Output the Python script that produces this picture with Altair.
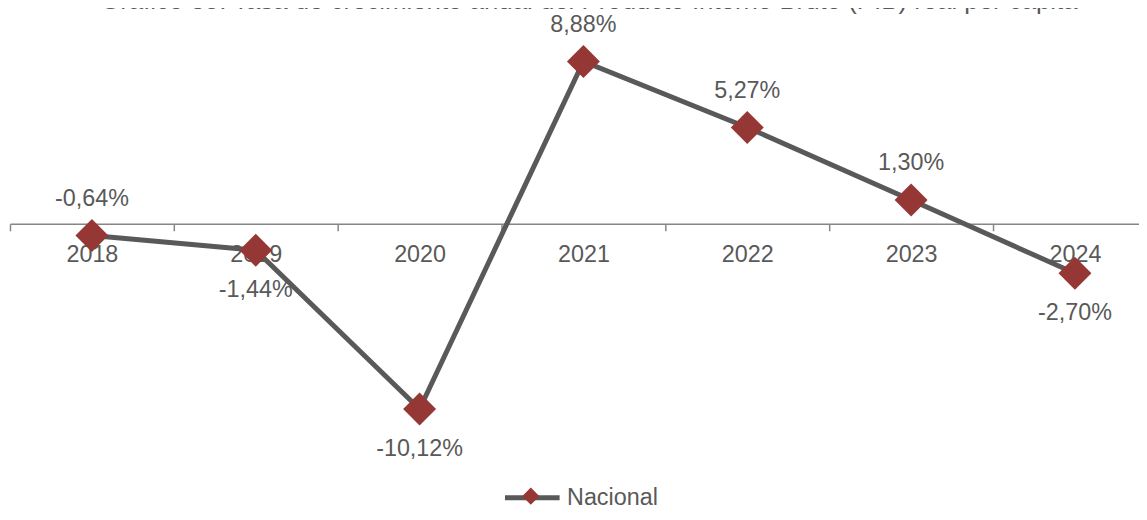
import altair as alt
import pandas as pd

# ---- data ----
anios = ["2018", "2019", "2020", "2021", "2022", "2023", "2024"]
valores = [-0.64, -1.44, -10.12, 8.88, 5.27, 1.30, -2.70]
posicion = ["arriba", "abajo", "abajo", "arriba", "arriba", "arriba", "abajo"]
serie = ["Nacional"] * len(anios)
titulo = ["Gráfico 38. Tasa de crecimiento anual del Producto Interno Bruto (PIB) real per cápita"]

df = pd.DataFrame({"anio": anios, "valor": valores, "pos": posicion, "serie": serie})
df_title = pd.DataFrame({"t": titulo})

# ---- style ----
W, H = 1139, 504
GREY = "#595959"
AXIS_GREY = "#868686"
RED = "#953735"
FONT = "Liberation Sans"
FS = 23.5
ZERO_PX = 215.6
PX_PER_UNIT = 18.42
LEG_CY = 489

y_top = ZERO_PX / PX_PER_UNIT
y_bot = -(H - ZERO_PX) / PX_PER_UNIT

x_enc = alt.X(
    "anio:O",
    scale=alt.Scale(type="band", range=[2, 1157], paddingInner=0, paddingOuter=0),
    bandPosition=0.5,
    axis=alt.Axis(
        title=None,
        offset=ZERO_PX - H,
        tickBand="extent",
        ticks=True,
        tickSize=7,
        tickColor=AXIS_GREY,
        tickWidth=1.5,
        domainColor=AXIS_GREY,
        domainWidth=1.5,
        labelFont=FONT,
        labelFontSize=FS,
        labelColor=GREY,
        labelPadding=12,
        labelAngle=0,
        grid=False,
    ),
)
y_enc = alt.Y("valor:Q", scale=alt.Scale(domain=[y_bot, y_top], nice=False, zero=False), axis=None)

base = alt.Chart(df).transform_calculate(
    etiqueta="(datum.valor < 0 ? '-' : '') + replace(format(abs(datum.valor), '.2f'), '.', ',') + '%'"
)

line = base.mark_line(strokeWidth=5).encode(
    x=x_enc,
    y=y_enc,
    color=alt.Color(
        "serie:N",
        scale=alt.Scale(range=[GREY]),
        legend=alt.Legend(
            title=None,
            orient="none",
            legendX=498,
            legendY=LEG_CY - 27.5,
            symbolType="stroke",
            symbolSize=3025,
            symbolStrokeWidth=5,
            labelFont=FONT,
            labelFontSize=FS,
            labelColor=GREY,
            labelOffset=5,
            padding=0,
        ),
    ),
)

points = base.mark_point(shape="diamond", filled=True, size=1100, opacity=1).encode(
    x=x_enc,
    y=y_enc,
    fill=alt.Fill(
        "serie:N",
        scale=alt.Scale(range=[RED]),
        legend=alt.Legend(
            title=None,
            orient="none",
            legendX=517,
            legendY=LEG_CY - 8.66,
            symbolType="diamond",
            symbolSize=300,
            symbolOpacity=1,
            labelExpr="''",
            labelOffset=0,
            padding=0,
        ),
    ),
)

txt_style = dict(font=FONT, fontSize=FS, color=GREY, baseline="middle", align="center")
labels_up = base.transform_filter("datum.pos == 'arriba'").mark_text(dy=-37, **txt_style).encode(
    x=x_enc, y=y_enc, text="etiqueta:N"
)
labels_down = base.transform_filter("datum.pos == 'abajo'").mark_text(dy=40, **txt_style).encode(
    x=x_enc, y=y_enc, text="etiqueta:N"
)

title_txt = alt.Chart(df_title).mark_text(
    font=FONT, fontSize=26, color=GREY, align="center", baseline="alphabetic"
).encode(text="t:N", x=alt.value(585), y=alt.value(-1))

chart = (
    alt.layer(line, points, labels_up, labels_down, title_txt)
    .properties(width=W, height=H, padding=0, autosize=alt.AutoSizeParams(type="none"))
    .configure_view(stroke=None)
)

chart.save("out.html", embed_options={"renderer": "svg", "actions": False})
